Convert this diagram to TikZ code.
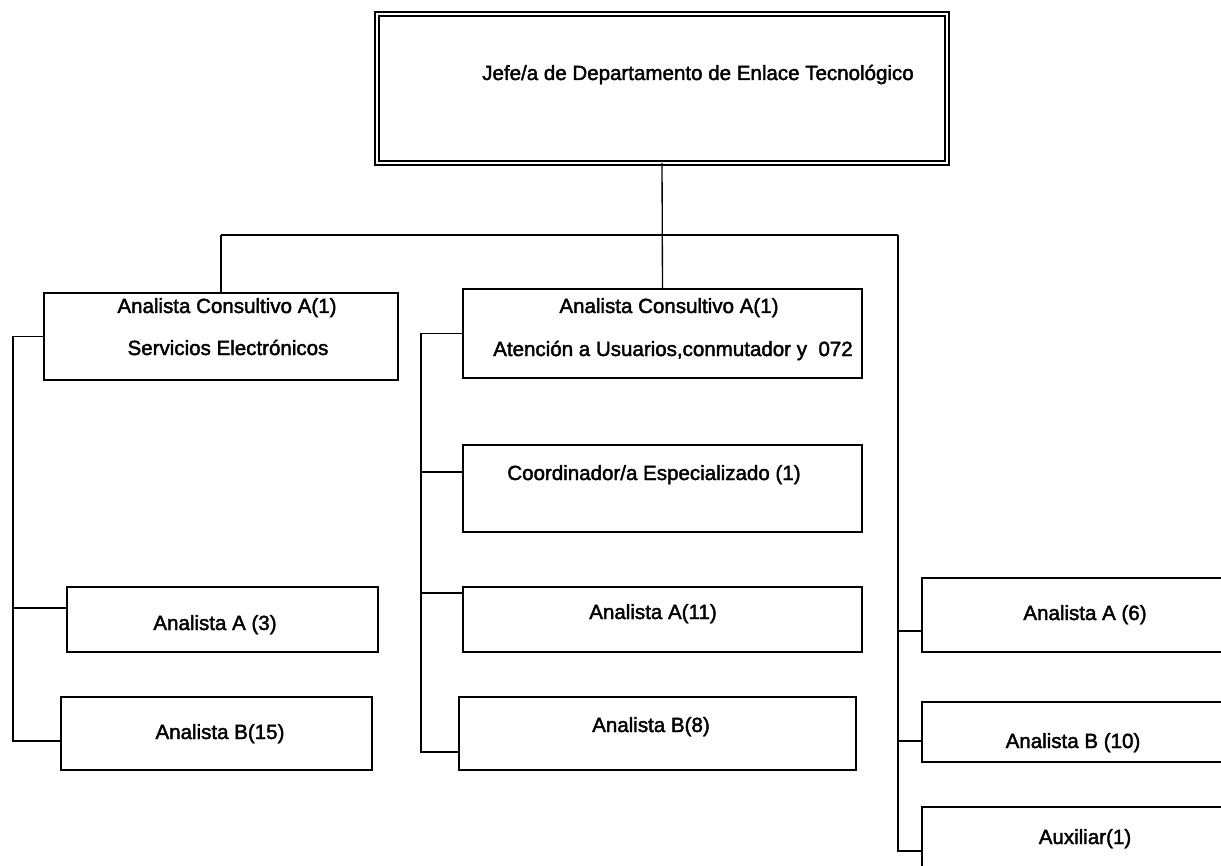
\documentclass[tikz,border=0pt]{standalone}
\usepackage{fontspec}
\setmainfont{Liberation Sans}[BoldFont=Liberation Sans,BoldFeatures={FakeBold=2}]
\usetikzlibrary{fit}
\begin{document}
\begin{tikzpicture}[x=0.75pt,y=-0.75pt,
  box/.style={draw,line width=1pt,inner sep=0pt,outer sep=0pt},
  headbox/.style={draw,double,line width=0.9pt,double distance=2.2pt,inner sep=0pt,outer sep=0pt},
  wire/.style={line width=1pt},
  lbl/.style={anchor=base,inner sep=0pt,font=\fontsize{15.4}{18}\selectfont\bfseries}]
\clip (0,0) rectangle (1221,866);

% head of department
\node[headbox,fit={(377,14) (947,163)}] (top) {};
\node[lbl,anchor=base west] (ttop) at (482,80) {Jefe/a de Departamento de Enlace Tecnológico};

% left branch
\node[box,fit={(44,293) (398,380)}] (l1) {};
\node[lbl] (tl1a) at (227,313) {Analista Consultivo A(1)};
\node[lbl] (tl1b) at (228,355) {Servicios Electrónicos};
\node[box,fit={(67,587) (378,652)}] (l2) {};
\node[lbl] (tl2) at (215,630) {Analista A (3)};
\node[box,fit={(61,697) (372,770)}] (l3) {};
\node[lbl] (tl3) at (220,739) {Analista B(15)};

% middle branch
\node[box,fit={(463,289) (862,378)}] (m1) {};
\node[lbl] (tm1a) at (669,313) {Analista Consultivo A(1)};
\node[lbl] (tm1b) at (673,356) {Atención a Usuarios,conmutador y\ \ 072};
\node[box,fit={(463,445) (862,532)}] (m2) {};
\node[lbl] (tm2) at (654,480) {Coordinador/a Especializado (1)};
\node[box,fit={(463,587) (862,652)}] (m3) {};
\node[lbl] (tm3) at (653,619) {Analista A(11)};
\node[box,fit={(459,697) (856,770)}] (m4) {};
\node[lbl] (tm4) at (651,732) {Analista B(8)};

% right branch
\node[box,fit={(922,578) (1240,652)}] (r1) {};
\node[lbl] (tr1) at (1085,620) {Analista A (6)};
\node[box,fit={(922,702) (1240,762)}] (r2) {};
\node[lbl] (tr2) at (1073,748) {Analista B (10)};
\node[box,fit={(922,807) (1240,890)}] (r3) {};
\node[lbl] (tr3) at (1085,844) {Auxiliar(1)};

% main bus
\coordinate (busL) at (221,235);
\coordinate (busR) at (898,235);
\draw[wire] (busL) -- (busR);
\draw[wire] (top.south) -- (m1.north);
\draw[wire] (busL) -- (l1.north);

% left spine
\coordinate (lsp) at (13,0);
\draw[wire] (l1.west) -- (lsp |- l1.west) -- (lsp |- 0,741) -- (l3.west |- 0,741);
\draw[wire] (lsp |- 0,608) -- (l2.west |- 0,608);

% middle spine
\coordinate (msp) at (421,0);
\draw[wire] (m1.west) -- (msp |- m1.west) -- (msp |- 0,752) -- (m4.west |- 0,752);
\draw[wire] (msp |- 0,472) -- (m2.west |- 0,472);
\draw[wire] (msp |- 0,593) -- (m3.west |- 0,593);

% right spine
\draw[wire] (busR) -- (busR |- 0,851) -- (r3.west |- 0,851);
\draw[wire] (busR |- 0,631) -- (r1.west |- 0,631);
\draw[wire] (busR |- 0,741) -- (r2.west |- 0,741);
\end{tikzpicture}
\end{document}
